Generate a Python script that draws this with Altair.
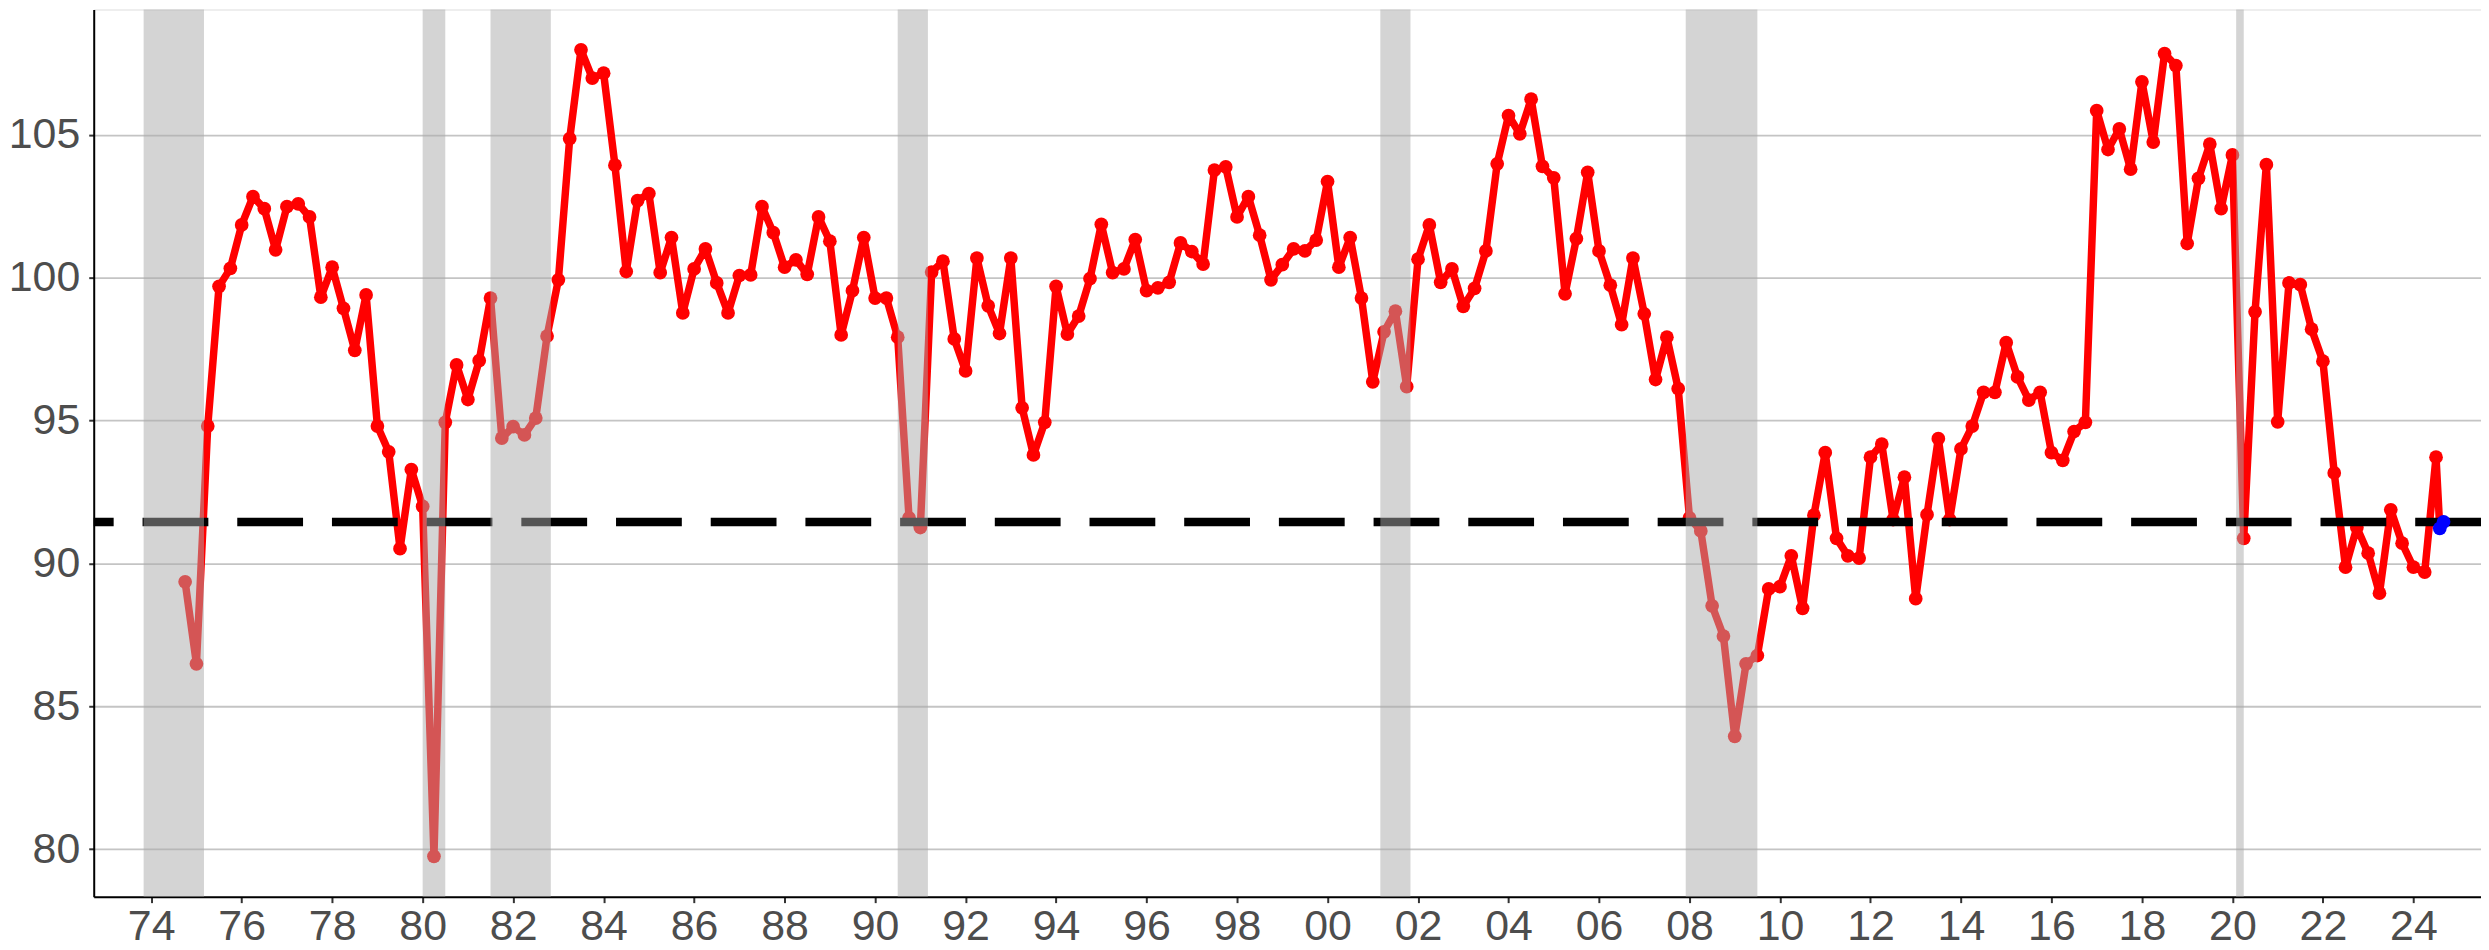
import altair as alt
import pandas as pd

# Quarterly index values, first quarter = 1974 Q4
FIRST_QUARTER = 1974.75
VALUES = [
    89.36, 86.49, 94.81, 99.70, 100.33, 101.85, 102.84, 102.42, 100.98, 102.49,
    102.59, 102.13, 99.32, 100.37, 98.93, 97.46, 99.40, 94.81, 93.91, 90.52,
    93.29, 92.00, 79.75, 94.94, 96.95, 95.74, 97.10, 99.29, 94.39, 94.79,
    94.50, 95.09, 97.96, 99.93, 104.87, 107.98, 106.99, 107.16, 103.94, 100.22,
    102.70, 102.95, 100.18, 101.41, 98.77, 100.31, 101.01, 99.82, 98.77, 100.08,
    100.10, 102.49, 101.58, 100.37, 100.63, 100.12, 102.13, 101.28, 98.00, 99.55,
    101.41, 99.29, 99.29, 97.92, 91.60, 91.26, 100.20, 100.58, 97.86, 96.74,
    100.69, 99.02, 98.05, 100.69, 95.45, 93.80, 94.94, 99.70, 98.03, 98.66,
    99.97, 101.87, 100.18, 100.31, 101.34, 99.55, 99.65, 99.84, 101.22, 100.92,
    100.48, 103.77, 103.88, 102.13, 102.84, 101.49, 99.93, 100.46, 101.01, 100.94,
    101.32, 103.37, 100.37, 101.41, 99.29, 96.36, 98.11, 98.83, 96.19, 100.65,
    101.85, 99.84, 100.31, 99.00, 99.63, 100.94, 103.99, 105.68, 105.04, 106.25,
    103.90, 103.50, 99.44, 101.37, 103.69, 100.94, 99.74, 98.36, 100.69, 98.74,
    96.44, 97.92, 96.12, 91.60, 91.14, 88.52, 87.46, 83.95, 86.49, 86.78,
    89.11, 89.19, 90.27, 88.43, 91.69, 93.88, 90.88, 90.27, 90.19, 93.72,
    94.18, 91.54, 93.02, 88.77, 91.71, 94.37, 91.54, 94.01, 94.81, 95.99,
    95.99, 97.73, 96.53, 95.72, 95.99, 93.88, 93.61, 94.62, 94.94, 105.85,
    104.49, 105.21, 103.80, 106.86, 104.75, 107.85, 107.43, 101.20, 103.48, 104.68,
    102.42, 104.30, 90.88, 98.81, 103.96, 94.96, 99.82, 99.76, 98.20, 97.08,
    93.17, 89.87, 91.26, 90.36, 88.96, 91.88, 90.71, 89.87, 89.70, 93.72,
]

# Latest monthly readings (blue)
LATEST_X = [2024.583, 2024.667]
LATEST_Y = [91.23, 91.46]

# Long-run reference level (dashed)
REFERENCE_LEVEL = [91.45]

# Recessions (decimal years)
REC_START = [1973.833, 1980.0, 1981.5, 1990.5, 2001.167, 2007.917, 2020.083]
REC_END = [1975.167, 1980.5, 1982.833, 1991.167, 2001.833, 2009.5, 2020.25]

X_TICKS = list(range(1974, 2025, 2))
Y_TICKS = [80, 85, 90, 95, 100, 105]

quarters = [FIRST_QUARTER + 0.25 * i for i in range(len(VALUES))]
line_df = pd.DataFrame({"t": quarters + [LATEST_X[0]], "v": VALUES + [LATEST_Y[0]]})
pts_df = pd.DataFrame({"t": quarters, "v": VALUES})
blue_df = pd.DataFrame({"t": LATEST_X, "v": LATEST_Y})
ref_df = pd.DataFrame({"v": REFERENCE_LEVEL})
rec_df = pd.DataFrame({"t": REC_START, "e": REC_END})

FONT = "Liberation Sans"
xscale = alt.Scale(domain=[1972.73, 2025.494], nice=False, zero=False)
yscale = alt.Scale(domain=[78.34, 109.39], nice=False, zero=False)

xaxis = alt.Axis(
    values=X_TICKS,
    labelExpr="(datum.value % 100 < 10 ? '0' : '') + (datum.value % 100)",
    title=None, grid=False, domain=True, domainColor="#000000", domainWidth=2,
    ticks=True, tickColor="#333333", tickWidth=2, tickSize=6,
    labelFont=FONT, labelFontSize=43, labelColor="#4D4D4D", labelPadding=3,
)
yaxis = alt.Axis(
    values=Y_TICKS, title=None, grid=True, gridColor="#C4C4C4", gridWidth=1.8,
    domain=True, domainColor="#000000", domainWidth=2,
    ticks=True, tickColor="#333333", tickWidth=2, tickSize=5,
    labelFont=FONT, labelFontSize=43, labelColor="#4D4D4D", labelPadding=9,
)


def X(field="t"):
    return alt.X(f"{field}:Q", scale=xscale, axis=xaxis, title=None)


def Y(field="v"):
    return alt.Y(f"{field}:Q", scale=yscale, axis=yaxis, title=None)


line = alt.Chart(line_df).mark_line(color="#FF0000", strokeWidth=7.5, strokeJoin="round").encode(
    x=X(), y=Y()
)
pts = alt.Chart(pts_df).mark_circle(color="#FF0000", size=190, opacity=1).encode(x=X(), y=Y())
ref = alt.Chart(ref_df).mark_rule(color="#000000", strokeWidth=8.5, strokeDash=[66, 29]).encode(y=Y())
blue = alt.Chart(blue_df).mark_circle(color="#0000FF", size=190, opacity=1).encode(x=X(), y=Y())
rec = alt.Chart(rec_df).mark_rect(color="#A9A9A9", opacity=0.5).encode(x=X(), x2="e:Q")

chart = alt.layer(line, pts, ref, blue, rec).properties(
    width=2395, height=890,
    autosize="none",
    padding={"left": 86, "top": 0, "right": 0, "bottom": 52},
).configure_view(stroke=None).configure(background="#FFFFFF")

chart.save("out.html", embed_options={"renderer": "svg", "actions": False})
